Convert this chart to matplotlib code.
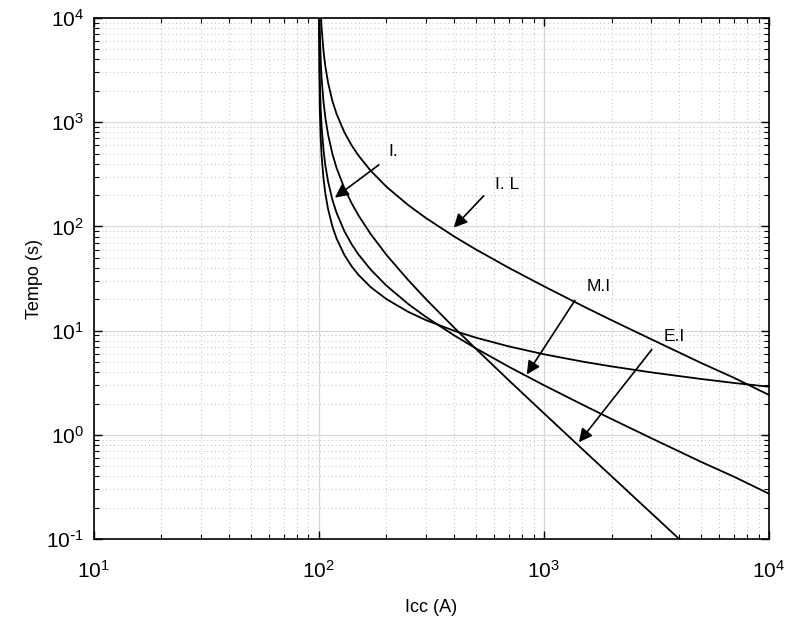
import matplotlib
matplotlib.use('Agg')
import matplotlib.pyplot as plt
from matplotlib.ticker import FuncFormatter
import math

plt.rcParams['font.family'] = ['Liberation Sans', 'DejaVu Sans']
plt.rcParams['mathtext.default'] = 'regular'
plt.rcParams['axes.unicode_minus'] = False

# correntes de curto-circuito (A)
icc = [100.1, 101, 102, 103, 105, 107, 110, 115, 120, 130, 140, 150, 170, 200,
       250, 300, 400, 500, 700, 1000, 1500, 2000, 3000, 5000, 7000, 10000]

# tempos (s)
t_inversa = [14007, 1407, 707, 474, 287, 206.8, 146.8, 100.0, 76.6, 53.2, 41.5, 34.4,
             26.2, 20.06, 15.14, 12.60, 9.96, 8.56, 7.06, 5.94, 5.03, 4.54, 3.98,
             3.44, 3.15, 2.90]
t_muito_inv = [27000, 2700, 1350, 900, 540, 385.7, 270, 180, 135, 90, 67.5, 54, 38.6,
               27, 18, 13.5, 9, 6.75, 4.5, 3.0, 1.93, 1.42, 0.931, 0.551, 0.397, 0.273]
t_extrem_inv = [79960, 7960, 3960, 2627, 1561, 1104, 762, 496, 364, 232, 167, 128,
                84.7, 53.3, 30.5, 20, 10.67, 6.67, 3.33, 1.616, 0.714, 0.401, 0.178,
                0.064, 0.0327, 0.016]
t_longa_inv = [240000, 24000, 12000, 8000, 4800, 3429, 2400, 1600, 1200, 800, 600, 480,
               343, 240, 160, 120, 80, 60, 40, 26.7, 17.1, 12.6, 8.28, 4.90, 3.53, 2.42]

# rotulos: texto, posicao do texto, cauda da seta, ponta da seta
labels = ['I.', 'I. L', 'M.I', 'E.I']
text_pos = [(215, 520), (690, 250), (1760, 26.5), (3800, 8.8)]
tails = [(185, 390), (541, 197), (1374, 19.5), (3020, 6.6)]
tips = [(118, 189), (398, 97.5), (840, 3.8), (1432, 0.85)]


def pot10(v, pos):
    e = int(round(math.log10(v)))
    if e < 0:
        return r'$10^{\text{-}%d}$' % (-e)
    return r'$10^{%d}$' % e


fig = plt.figure(figsize=(7.87, 6.19), dpi=100)
ax = fig.add_axes([0.119, 0.129, 0.858, 0.842])

for t in [t_inversa, t_muito_inv, t_extrem_inv, t_longa_inv]:
    ax.plot(icc, t, color='black', lw=1.3)

ax.set_xscale('log')
ax.set_yscale('log')
ax.set_xlim(10, 1e4)
ax.set_ylim(0.1, 1e4)
ax.xaxis.set_major_formatter(FuncFormatter(pot10))
ax.yaxis.set_major_formatter(FuncFormatter(pot10))

ax.grid(True, which='major', color='#d8d8d8', lw=0.9, ls='-')
ax.grid(True, which='minor', color='#bdbdbd', lw=0.7, ls=(0, (1, 3)))
ax.set_axisbelow(True)

ax.tick_params(which='both', direction='in', top=True, right=True, labelsize=15)
ax.tick_params(which='major', length=6, width=1)
ax.tick_params(which='minor', length=3.5, width=0.8)
ax.tick_params(axis='x', which='major', pad=15)
ax.tick_params(axis='y', which='major', pad=7)
for s in ax.spines.values():
    s.set_linewidth(1.2)

ax.set_xlabel('Icc (A)', fontsize=13, labelpad=12)
ax.set_ylabel('Tempo (s)', fontsize=13, labelpad=2)

for lab, tp, tl, tip in zip(labels, text_pos, tails, tips):
    ax.text(tp[0], tp[1], lab, fontsize=12.5, ha='center', va='center')
    ax.annotate('', xy=tip, xytext=tl,
                arrowprops=dict(arrowstyle='-|>', color='black', lw=1.2,
                                mutation_scale=20, shrinkA=0, shrinkB=0))

fig.savefig('out.png', dpi=100)
